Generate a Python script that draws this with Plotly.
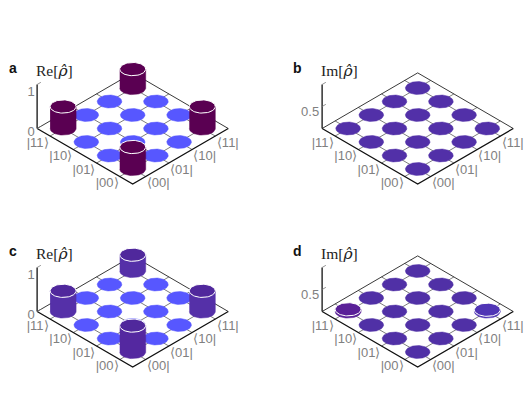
import numpy as np
import plotly.graph_objects as go

FIG_W = 531
FIG_H = 407

kets = ["|00⟩", "|01⟩", "|10⟩", "|11⟩"]
bras = ["⟨00|", "⟨01|", "⟨10|", "⟨11|"]

# density matrix elements, rows are kets and columns are bras
re_ideal = [[0.5, 0, 0, 0.5],
            [0, 0, 0, 0],
            [0, 0, 0, 0],
            [0.5, 0, 0, 0.43]]
im_ideal = [[0, 0, 0, 0],
            [0, 0, 0, 0],
            [0, 0, 0, 0],
            [0, 0, 0, 0]]
re_measured = [[0.6, 0, 0, 0.47],
               [0, 0, 0, 0],
               [0, 0, 0, 0],
               [0.47, 0, 0, 0.37]]
im_measured = [[0, 0, 0, 0.04],
               [0, 0, 0, 0],
               [0, 0, 0, 0],
               [0.05, 0, 0, 0]]

STEP_X = 23.2
STEP_Y = 13.5
Z_PX = 44
FLOOR = 2.06
LABEL_OFF = 2.6

RHO = "<span style=\"font-family:'DejaVu Serif'\"><i>ρ̂</i></span>"

panels = [
    dict(letter="a", title="Re[" + RHO + "]", data=re_ideal, cx=132.7, cy=128.5, ticks=[0, 1],
         flat="#5757ff", bar={}, bar_default="#5a0052", top=None),
    dict(letter="b", title="Im[" + RHO + "]", data=im_ideal, cx=417.7, cy=128.5, ticks=[0.5],
         flat="#5230a8", bar={}, bar_default="#5230a8", top=None),
    dict(letter="c", title="Re[" + RHO + "]", data=re_measured, cx=132.7, cy=311.5, ticks=[0, 1],
         flat="#5757ff", bar={(0, 0): "#5428a0"}, bar_default="#5530a8", top="#50289c"),
    dict(letter="d", title="Im[" + RHO + "]", data=im_measured, cx=417.7, cy=311.5, ticks=[0.5],
         flat="#5030a6", bar={(3, 0): "#5a2098", (0, 3): "#5035b5"}, bar_default="#5030a6", top=None),
]

fig = go.Figure()


def poly(xref, yref, xs, ys, color, line=None, width=1):
    fig.add_trace(go.Scatter(x=xs, y=ys, xaxis=xref, yaxis=yref, mode="lines", fill="toself",
                             fillcolor=color, line=dict(color=line or color, width=width if line else 0.5),
                             hoverinfo="skip", showlegend=False))


def seg(xref, yref, xs, ys, color, width):
    fig.add_trace(go.Scatter(x=xs, y=ys, xaxis=xref, yaxis=yref, mode="lines",
                             line=dict(color=color, width=width), hoverinfo="skip", showlegend=False))


def labels(xref, yref, xs, ys, text, size=13):
    fig.add_trace(go.Scatter(x=xs, y=ys, xaxis=xref, yaxis=yref, mode="text", text=text, hoverinfo="skip",
                             showlegend=False, textposition="middle center", cliponaxis=False,
                             textfont=dict(family="Liberation Sans", size=size, color="#808080")))


def project(u, v, z=0):
    return u - v, u + v + z * Z_PX / STEP_Y


for n, p in enumerate(panels):
    suffix = "" if n == 0 else str(n + 1)
    xr, yr = "x" + suffix, "y" + suffix
    left, right = 128, 113
    px0, px1 = p["cx"] - left, p["cx"] + right
    py0, py1 = p["cy"] - 75, p["cy"] + 70
    fig.update_layout({
        "xaxis" + suffix: dict(domain=[px0 / FIG_W, px1 / FIG_W], range=[-left / STEP_X, right / STEP_X],
                               visible=False, fixedrange=True),
        "yaxis" + suffix: dict(domain=[1 - py1 / FIG_H, 1 - py0 / FIG_H], visible=False, fixedrange=True,
                               range=[-70 / STEP_Y, 75 / STEP_Y]),
    })

    # floor grid runs through the element centres
    idx = np.arange(4) - 1.5
    for t in idx:
        xs, ys = project(np.array([t, t]), np.array([-FLOOR, FLOOR]))
        seg(xr, yr, xs, ys, "#444444", 0.7)
        xs, ys = project(np.array([-FLOOR, FLOOR]), np.array([t, t]))
        seg(xr, yr, xs, ys, "#444444", 0.7)

    # back edges, then front edges
    xs, ys = project(np.array([-FLOOR, FLOOR, FLOOR]), np.array([FLOOR, FLOOR, -FLOOR]))
    seg(xr, yr, xs, ys, "#222222", 0.9)
    xs, ys = project(np.array([-FLOOR, -FLOOR, FLOOR]), np.array([FLOOR, -FLOOR, -FLOOR]))
    seg(xr, yr, xs, ys, "#111111", 1.3)

    # z axis
    x0, y0 = project(-FLOOR, FLOOR)
    seg(xr, yr, [x0, x0], [y0, y0 + Z_PX / STEP_Y], "#222222", 1.4)
    for t in [0, 0.5, 1]:
        if t in p["ticks"] or t == 1:
            ty = y0 + t * Z_PX / STEP_Y
            seg(xr, yr, [x0, x0 + 0.16], [ty, ty + 0.16], "#777777", 0.8)
    labels(xr, yr,
           [x0 - (12 if t == 0.5 else 6) / STEP_X for t in p["ticks"]],
           [y0 + t * Z_PX / STEP_Y - (4 + 4 * t) / STEP_Y for t in p["ticks"]],
           [f"{t:g}" for t in p["ticks"]])

    # elements back to front
    theta = np.linspace(0, 2 * np.pi, 61)
    order = sorted([(r, c) for r in range(4) for c in range(4)], key=lambda rc: -(rc[0] + rc[1]))
    for r, c in order:
        val = p["data"][r][c]
        bx, by = project(idx[c], idx[r])
        if val == 0:
            poly(xr, yr, bx + 0.53 * np.cos(theta), by + 0.48 * np.sin(theta), p["flat"])
            continue
        color = p["bar"].get((r, c), p["bar_default"])
        a, b = 0.56, 0.49
        h = val * Z_PX / STEP_Y
        front = np.linspace(np.pi, 2 * np.pi, 31)
        side_x = np.concatenate([bx + a * np.cos(front), (bx + a * np.cos(front))[::-1]])
        side_y = np.concatenate([by + b * np.sin(front), (by + h + b * np.sin(front))[::-1]])
        poly(xr, yr, side_x, side_y, color)
        poly(xr, yr, bx + a * np.cos(theta), by + h + b * np.sin(theta), p["top"] or color,
             line="#ffffff", width=1)

    # basis labels
    lx, ly = project(np.full(4, -LABEL_OFF), idx)
    labels(xr, yr, lx, ly, kets)
    lx, ly = project(idx, np.full(4, -LABEL_OFF))
    labels(xr, yr, lx, ly, bras)

    fig.add_annotation(x=(p["cx"] - 120) / FIG_W, y=1 - (p["cy"] - 60.5) / FIG_H, xref="paper", yref="paper",
                       text=f"<b>{p['letter']}</b>", showarrow=False, xanchor="center", yanchor="middle",
                       font=dict(family="Liberation Sans", size=14, color="#111111"))
    fig.add_annotation(x=(p["cx"] - 78.5) / FIG_W, y=1 - (p["cy"] - 58) / FIG_H, xref="paper", yref="paper",
                       text=p["title"], showarrow=False, xanchor="center", yanchor="middle",
                       font=dict(family="Liberation Serif", size=15.5, color="#222222"))

fig.update_layout(width=FIG_W, height=FIG_H, margin=dict(l=0, r=0, t=0, b=0), showlegend=False,
                  paper_bgcolor="white", plot_bgcolor="rgba(0,0,0,0)")
fig.write_html("out.html", config=dict(displayModeBar=False),
               post_script="document.body.style.margin='0';")
